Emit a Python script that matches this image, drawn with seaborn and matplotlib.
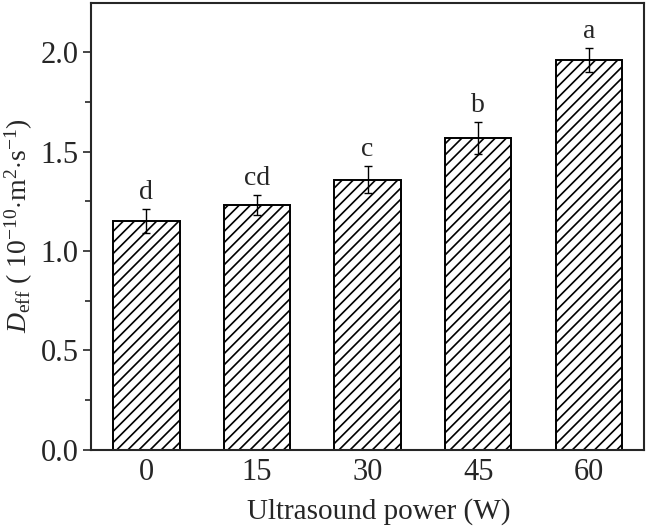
import matplotlib
matplotlib.use("Agg")
import matplotlib.pyplot as plt
import numpy as np
import pandas as pd
import seaborn as sns

power = ["0", "15", "30", "45", "60"]
deff = [1.15, 1.23, 1.36, 1.57, 1.96]
err = [0.06, 0.05, 0.07, 0.08, 0.06]
letters = ["d", "cd", "c", "b", "a"]

sns.set_style("ticks")
plt.rcParams['font.family'] = ['Liberation Serif', 'DejaVu Serif']
plt.rcParams['mathtext.fontset'] = 'custom'
plt.rcParams['mathtext.rm'] = 'Liberation Serif'
plt.rcParams['mathtext.it'] = 'Liberation Serif:italic'
plt.rcParams['hatch.linewidth'] = 1.2
plt.rcParams['hatch.color'] = 'black'

df = pd.DataFrame({"power": power, "deff": deff})

fig, ax = plt.subplots(figsize=(6.46, 5.31), dpi=100)
fig.subplots_adjust(left=0.141, right=0.997, top=0.995, bottom=0.153)

sns.barplot(data=df, x="power", y="deff", color="white", edgecolor="black",
            linewidth=1.4, width=0.6, errorbar=None, ax=ax)
for p in ax.patches:
    p.set_hatch("///")
    p.set_facecolor("white")

x = np.arange(len(power))
ax.errorbar(x, deff, yerr=err, fmt="none", ecolor="black", elinewidth=1.0,
            capsize=3, capthick=1.0)
for i in range(len(power)):
    ax.text(x[i], deff[i] + err[i] + 0.02, letters[i], ha="center", va="bottom",
            fontsize=20)

ax.set_xlim(-0.5, 4.5)
ax.set_ylim(0, 2.25)
ax.set_yticks([0.0, 0.5, 1.0, 1.5, 2.0])
ax.set_yticks(np.arange(0.25, 2.25, 0.5), minor=True)
ax.set_yticklabels(["0.0", "0.5", "1.0", "1.5", "2.0"])
ax.tick_params(axis="y", which="major", direction="out", length=6, width=1.2, labelsize=22, pad=3)
ax.tick_params(axis="y", which="minor", direction="out", length=4, width=1.2)
ax.tick_params(axis="x", direction="in", length=5, width=1.2, labelsize=22, pad=6)
for s in ax.spines.values():
    s.set_visible(True)
    s.set_linewidth(1.5)

ax.set_xlabel("Ultrasound power (W)", fontsize=21)
ax.xaxis.set_label_coords(0.52, -0.108)
ax.set_ylabel(r"$\mathit{D}_{\mathrm{eff}}$ ( 10$^{-10}$$\cdot$m$^{2}$$\cdot$s$^{-1}$)", fontsize=20, labelpad=4)

fig.savefig("out.png", dpi=100)
